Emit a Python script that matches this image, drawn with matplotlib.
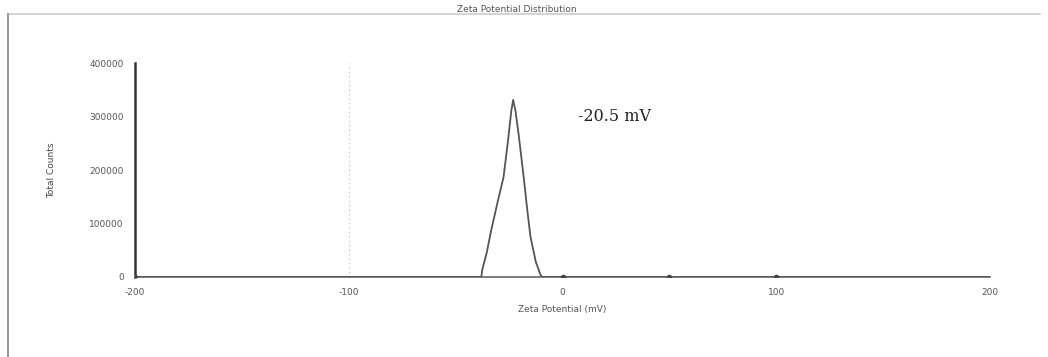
import numpy as np
import matplotlib
matplotlib.use("Agg")
from matplotlib import pyplot as plt

# zeta potential distribution (mV, total counts)
zeta_mv = [-200, -38.0, -37.6, -35.5, -33.5, -30.5, -27.6, -25.5, -24.0, -23.1,
           -22.0, -20.5, -18.2, -16.5, -15.0, -12.5, -10.3, -9.5, 200]
counts = [0, 0, 13000, 45000, 85000, 138000, 187000, 255000, 310000, 331000,
          310000, 265000, 187000, 125000, 75000, 28000, 4000, 0, 0]
peak_label = "-20.5 mV"

x_ticks = [-200, -100, 0, 100, 200]
y_ticks = [0, 100000, 200000, 300000, 400000]
baseline_dots = [-200, 0, 50, 100]

fig = plt.figure(figsize=(10.48, 3.57), dpi=100)
ax = fig.add_axes([0.1288, 0.2241, 0.816, 0.5994])

# faint dotted guide at -100 mV
ax.axvline(-100, color="#bbbbbb", lw=0.8, ls=(0, (1, 3)), zorder=1)

ax.plot(zeta_mv, counts, color="#555555", lw=1.3, zorder=3)
ax.plot(baseline_dots, [0] * len(baseline_dots), "o", color="#444444", ms=3, zorder=4)

ax.set_xlim(-200, 200)
ax.set_ylim(0, 400000)
ax.set_xticks(x_ticks)
ax.set_yticks(y_ticks)
ax.set_xticklabels([str(v) for v in x_ticks])
ax.set_yticklabels([str(v) for v in y_ticks])
ax.tick_params(axis="both", labelsize=6.5, colors="#555555", length=0, pad=8)

for side in ["top", "right"]:
    ax.spines[side].set_visible(False)
ax.spines["left"].set_color("#333333")
ax.spines["left"].set_linewidth(1.8)
ax.spines["bottom"].set_color("#666666")
ax.spines["bottom"].set_linewidth(1.2)

ax.set_xlabel("Zeta Potential (mV)", fontsize=6.5, color="#555555", labelpad=6)
ax.set_ylabel("Total Counts", fontsize=6.5, color="#444444", labelpad=24)

ax.text(7, 300000, peak_label, fontsize=11.5, family="DejaVu Serif",
        color="#222222", va="center", ha="left")

fig.text(0.493, 0.972, "Zeta Potential Distribution", fontsize=6.5,
         color="#555555", ha="center", va="center")

# outer frame lines
fig.add_artist(plt.Line2D([0.008, 0.992], [0.961, 0.961], color="#cccccc", lw=1.2))
fig.add_artist(plt.Line2D([0.008, 0.008], [0.0, 0.961], color="#888888", lw=1.2))

fig.savefig("out.png", dpi=100, facecolor="white")
